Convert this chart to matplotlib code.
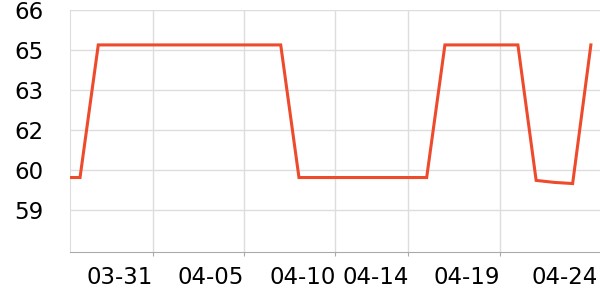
import matplotlib
matplotlib.use('Agg')
import matplotlib.pyplot as plt
import matplotlib.dates as mdates
import numpy as np

# daily values, 03-26 .. 04-24
dates = np.arange(np.datetime64('2024-03-26'), np.datetime64('2024-04-25'), np.timedelta64(1, 'D'))
values = [60.15, 60.15,
          64.78, 64.78, 64.78, 64.78, 64.78, 64.78, 64.78, 64.78, 64.78, 64.78, 64.78,
          60.15, 60.15, 60.15, 60.15, 60.15, 60.15, 60.15, 60.15,
          64.78, 64.78, 64.78, 64.78, 64.78,
          60.05, 59.98, 59.94,
          64.78]

x_ticks = ['2024-03-31', '2024-04-05', '2024-04-10', '2024-04-14', '2024-04-19', '2024-04-24T09:00']
y_ticks = [59.0, 60.4, 61.8, 63.2, 64.6, 66.0]

fig = plt.figure(figsize=(6, 3), dpi=100)
ax = fig.add_axes([0.1167, 0.16, 0.8833, 0.8067])

ax.plot(dates.astype('datetime64[s]').astype(object), values, color='#ee4a2c', linewidth=2.2,
        solid_joinstyle='miter', zorder=3)

ax.set_xlim(np.datetime64('2024-03-26T10:50').astype(object), np.datetime64('2024-04-24T12:00').astype(object))
ax.set_ylim(57.55, 66.0)

ax.set_xticks([np.datetime64(d).astype('datetime64[s]').astype(object) for d in x_ticks])
ax.xaxis.set_major_formatter(mdates.DateFormatter('%m-%d'))
ax.set_yticks(y_ticks)
ax.set_yticklabels(['%.0f' % v for v in y_ticks])

for lbl in ax.get_xticklabels():
    lbl.set_horizontalalignment('right')

ax.tick_params(axis='x', length=3, color='#aaaaaa', labelsize=16.5, pad=7)
ax.tick_params(axis='y', length=0, labelsize=16.5, pad=19)

ax.grid(True, color='#dddddd', linewidth=1)
ax.set_axisbelow(True)
# the last date sits at the right edge: no grid line or tick mark there
ax.get_xgridlines()[-1].set_visible(False)
ax.xaxis.get_major_ticks()[-1].tick1line.set_visible(False)
for s in ['top', 'right']:
    ax.spines[s].set_visible(False)
ax.spines['left'].set_color('#dddddd')
ax.spines['bottom'].set_color('#aaaaaa')

fig.savefig('out.png', dpi=100)
